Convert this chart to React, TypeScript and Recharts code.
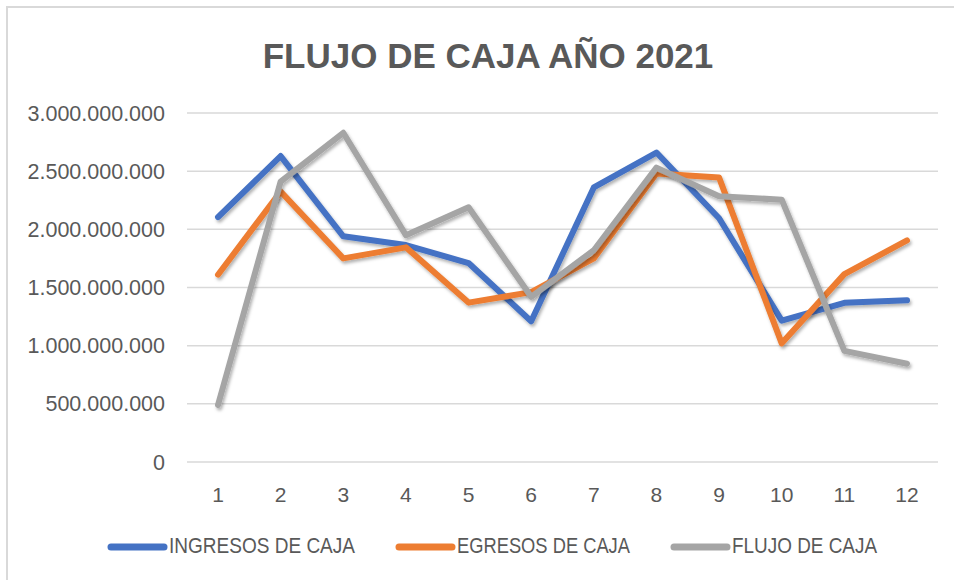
import React from "react";
import { LineChart, Line, XAxis, YAxis, CartesianGrid } from "recharts";

const meses = ["1", "2", "3", "4", "5", "6", "7", "8", "9", "10", "11", "12"];
const ingresos = [2105e6, 2630e6, 1940e6, 1865e6, 1710e6, 1210e6, 2360e6, 2660e6, 2095e6, 1215e6, 1368e6, 1390e6];
const egresos = [1610e6, 2325e6, 1750e6, 1845e6, 1370e6, 1460e6, 1750e6, 2480e6, 2445e6, 1020e6, 1615e6, 1905e6];
const flujo = [490e6, 2410e6, 2830e6, 1950e6, 2190e6, 1420e6, 1820e6, 2530e6, 2285e6, 2255e6, 955e6, 845e6];
const yTicks = [0, 500e6, 1000e6, 1500e6, 2000e6, 2500e6, 3000e6];

const series = [
  { key: "ingresos", name: "INGRESOS DE CAJA", color: "#4472C4" },
  { key: "egresos", name: "EGRESOS DE CAJA", color: "#ED7D31" },
  { key: "flujo", name: "FLUJO DE CAJA", color: "#A5A5A5" },
];

const data = meses.map((mes, i) => ({
  mes,
  ingresos: ingresos[i],
  egresos: egresos[i],
  flujo: flujo[i],
}));

const fmt = (v: number) => String(v).replace(/\B(?=(\d{3})+(?!\d))/g, ".");
const textColor = "#595959";
const font = "'Liberation Sans', Arial, sans-serif";

// condensed legend: each label squeezed to the width it has in the picture
const legendWidths = [186, 173, 145];

function Leyenda() {
  let x = 108;
  const items = series.map((s, i) => {
    const x0 = x;
    x += 59 + 2 + legendWidths[i] + 41;
    return (
      <g key={s.key}>
        <line x1={x0 + 3} x2={x0 + 56} y1={547} y2={547} stroke={s.color} strokeWidth={7} strokeLinecap="round" />
        <text
          x={x0 + 61}
          y={553}
          fontSize={22}
          fill={textColor}
          fontFamily={font}
          textLength={legendWidths[i]}
          lengthAdjust="spacingAndGlyphs"
        >
          {s.name}
        </text>
      </g>
    );
  });
  return (
    <svg width={954} height={580} style={{ position: "absolute", left: 0, top: 0, pointerEvents: "none" }}>
      {items}
    </svg>
  );
}

export default function App() {
  return (
    <div style={{ position: "absolute", left: 0, top: 0, width: 954, height: 580, background: "#fff", overflow: "hidden" }}>
      <div style={{ position: "absolute", left: 6, top: 6, width: 980, height: 620, border: "2px solid #d9d9d9" }} />
      <LineChart width={954} height={580} data={data} margin={{ top: 113, right: 16, bottom: 88, left: 0 }}>
        <defs>
          <filter id="sombra" x="-10%" y="-10%" width="120%" height="130%">
            <feDropShadow dx="1.5" dy="2.5" stdDeviation="1.5" floodColor="#000" floodOpacity="0.3" />
          </filter>
        </defs>
        <text x={488} y={68} textAnchor="middle" fontSize={35} fontWeight="bold" fill={textColor} fontFamily={font}>
          FLUJO DE CAJA AÑO 2021
        </text>
        <CartesianGrid vertical={false} stroke="#d9d9d9" strokeWidth={1.5} />
        <XAxis
          dataKey="mes"
          axisLine={false}
          tickLine={false}
          tickSize={0}
          tickMargin={25}
          height={30}
          padding={{ left: 31, right: 31 }}
          tick={{ fill: textColor, fontSize: 21, fontFamily: font }}
        />
        <YAxis
          width={187}
          domain={[0, 3000e6]}
          ticks={yTicks}
          axisLine={false}
          tickLine={false}
          tickSize={0}
          tickMargin={22}
          tickFormatter={fmt}
          tick={{ fill: textColor, fontSize: 21.5, fontFamily: font }}
        />
        {series.map((s) => (
          <Line
            key={s.key}
            dataKey={s.key}
            name={s.name}
            stroke={s.color}
            strokeWidth={6}
            strokeLinecap="round"
            strokeLinejoin="round"
            dot={false}
            activeDot={false}
            filter="url(#sombra)"
            isAnimationActive={false}
          />
        ))}
      </LineChart>
      <Leyenda />
    </div>
  );
}
